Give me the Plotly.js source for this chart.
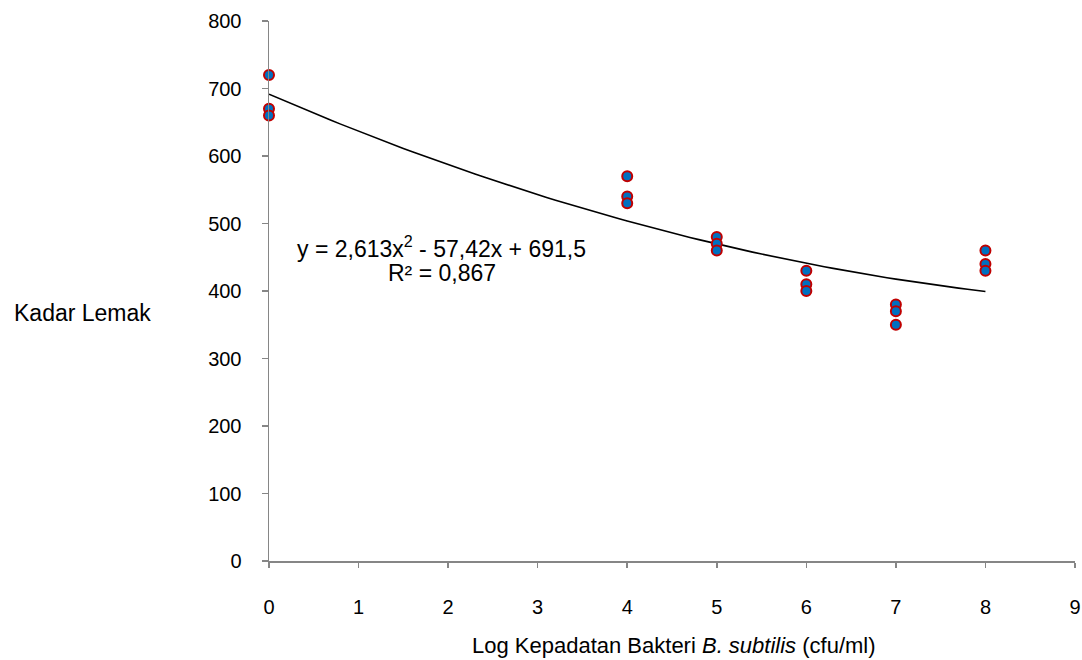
<!DOCTYPE html>
<html>
<head>
<meta charset="utf-8">
<script src="https://cdn.plot.ly/plotly-3.0.1.min.js"></script>
<style>html,body{margin:0;padding:0;background:#fff;}#chart{width:1082px;height:660px;}</style>
</head>
<body>
<div id="chart"></div>
<script>
// Observed data (Log density of B. subtilis vs fat content)
var xValues = [0, 0, 0, 4, 4, 4, 5, 5, 5, 6, 6, 6, 7, 7, 7, 8, 8, 8];
var yValues = [720, 670, 660, 570, 540, 530, 480, 470, 460, 430, 410, 400, 380, 370, 350, 460, 440, 430];
// Polynomial trendline coefficients as shown on the chart (a x^2 + b x + c)
var trendCoef = [2.613, -57.42, 691.5];
var trendRange = [0, 8];
var xTicks = [0, 1, 2, 3, 4, 5, 6, 7, 8, 9];
var yTicks = [0, 100, 200, 300, 400, 500, 600, 700, 800];
var eqText = 'y = 2,613x<sup>2</sup> - 57,42x + 691,5';
var r2Text = 'R² = 0,867';
var xTitle = 'Log Kepadatan Bakteri <i>B. subtilis</i> (cfu/ml)';
var yTitle = 'Kadar Lemak';

var tx = [], ty = [];
var steps = 80;
for (var i = 0; i <= steps; i++) {
  var xv = trendRange[0] + (trendRange[1] - trendRange[0]) * i / steps;
  tx.push(xv);
  ty.push(trendCoef[0] * xv * xv + trendCoef[1] * xv + trendCoef[2]);
}

var font = 'Liberation Sans, Arial, sans-serif';
var traces = [
  {x: tx, y: ty, mode: 'lines', type: 'scatter', line: {color: '#000', width: 1.6}, hoverinfo: 'skip', cliponaxis: false},
  {x: xValues, y: yValues, mode: 'markers', type: 'scatter', cliponaxis: false,
   marker: {size: 10, color: '#0070C0', line: {color: '#C00000', width: 2}}}
];

var layout = {
  width: 1082, height: 660,
  margin: {l: 269, r: 7, t: 21, b: 99, pad: 0},
  paper_bgcolor: '#ffffff', plot_bgcolor: '#ffffff',
  showlegend: false,
  font: {family: font, size: 20, color: '#000'},
  xaxis: {
    range: [0, 9], tickvals: xTicks, ticktext: xTicks.map(String),
    showgrid: false, zeroline: false, showline: true, linecolor: '#868686', linewidth: 1.5,
    ticks: 'outside', ticklen: 5, tickcolor: '#868686', tickwidth: 1.5,
    ticklabelstandoff: 22,
    tickfont: {family: font, size: 20, color: '#000'}
  },
  yaxis: {
    range: [0, 800], tickvals: yTicks, ticktext: yTicks.map(String),
    showgrid: false, zeroline: false, showline: true, linecolor: '#868686', linewidth: 1.5,
    ticks: 'outside', ticklen: 6, tickcolor: '#868686', tickwidth: 1.5,
    ticklabelstandoff: 16,
    tickfont: {family: font, size: 20, color: '#000'}
  },
  annotations: [
    {xref: 'paper', yref: 'paper', x: -0.3189, y: 0.459, xanchor: 'left', yanchor: 'middle',
     text: yTitle, showarrow: false, font: {family: font, size: 23, color: '#000'}},
    {xref: 'paper', yref: 'paper', x: 0.2494, y: -0.1556, xanchor: 'left', yanchor: 'middle',
     text: xTitle, showarrow: false, font: {family: font, size: 22, color: '#000'}},
    {xref: 'x', yref: 'y', x: 1.93, y: 465, xanchor: 'center', yanchor: 'middle',
     text: eqText, showarrow: false, font: {family: font, size: 23, color: '#000'}},
    {xref: 'x', yref: 'y', x: 1.93, y: 427, xanchor: 'center', yanchor: 'middle',
     text: r2Text, showarrow: false, font: {family: font, size: 23, color: '#000'}}
  ]
};

Plotly.newPlot('chart', traces, layout, {staticPlot: true, displayModeBar: false});
</script>
</body>
</html>
